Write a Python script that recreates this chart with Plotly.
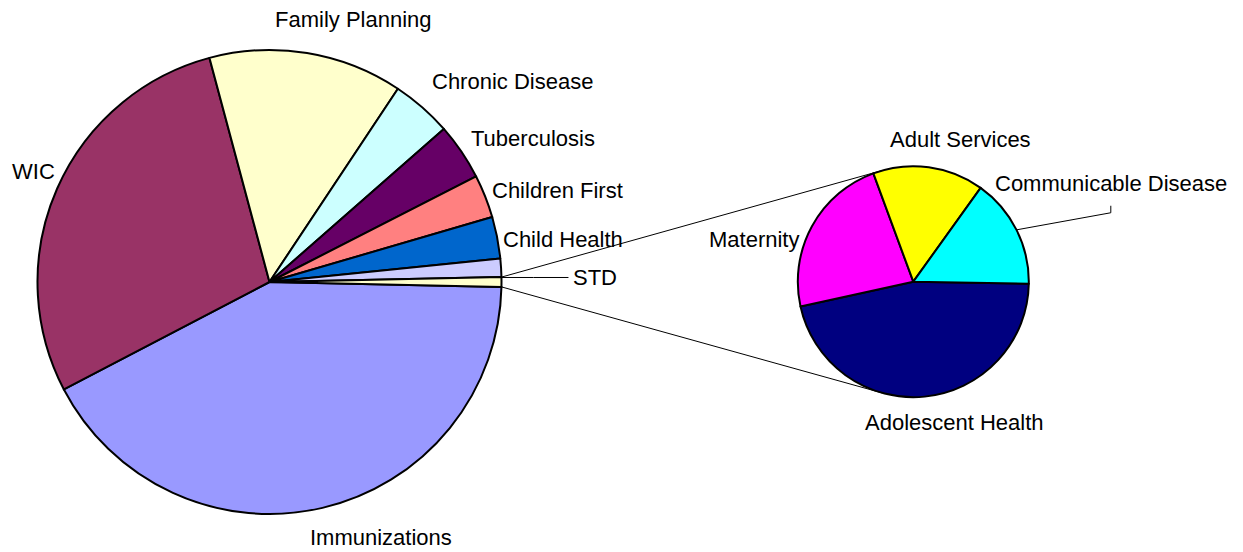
import math
import plotly.graph_objects as go

# ---------------- data ----------------
main_labels = ["Immunizations", "WIC", "Family Planning", "Chronic Disease",
               "Tuberculosis", "Children First", "Child Health", "STD"]
main_values = [42.0, 28.5, 13.5, 4.2, 3.95, 3.0, 2.9, 1.28]

sub_labels = ["Adolescent Health", "Maternity", "Adult Services", "Communicable Disease"]
sub_values = [0.310, 0.153, 0.104, 0.103]

main_colors = ["#9999FF", "#993366", "#FFFFCC", "#CCFFFF",
               "#660066", "#FF8080", "#0066CC", "#CCCCFF"]
other_color = "#FFFFCC"
sub_colors = ["#000080", "#FF00FF", "#FFFF00", "#00FFFF"]

# ---------------- layout geometry (pixels) ----------------
W, H = 1243, 552
MAIN_C, MAIN_R = (269.5, 282.0), 232.0
SUB_C, SUB_R = (913.3, 281.7), 115.5

other_value = sum(sub_values)
all_main_values = main_values + [other_value]
total = sum(all_main_values)
main_rotation = 90 + 360 * other_value / total / 2
sub_rotation = 91.0


def px(x):
    return x / W


def py(y):
    return 1 - y / H


def domain(c, r):
    return dict(x=[px(c[0] - r), px(c[0] + r)], y=[py(c[1] + r), py(c[1] - r)])


def slice_angles(values, rotation):
    """clock angles (deg from 12 o'clock, clockwise) of start/end of each slice"""
    tot = sum(values)
    out = []
    a = rotation
    for v in values:
        b = a + 360 * v / tot
        out.append((a, b))
        a = b
    return out


def edge_point(c, r, ang):
    t = math.radians(ang)
    return c[0] + r * math.sin(t), c[1] - r * math.cos(t)


fig = go.Figure()
fig.add_trace(go.Pie(
    labels=main_labels + ["Other"], values=all_main_values, sort=False,
    direction="clockwise", rotation=main_rotation, textinfo="none",
    marker=dict(colors=main_colors + [other_color], line=dict(color="black", width=2)),
    domain=domain(MAIN_C, MAIN_R), showlegend=False, hoverinfo="label+percent"))
fig.add_trace(go.Pie(
    labels=sub_labels, values=sub_values, sort=False,
    direction="clockwise", rotation=sub_rotation, textinfo="none",
    marker=dict(colors=sub_colors, line=dict(color="black", width=2)),
    domain=domain(SUB_C, SUB_R), showlegend=False, hoverinfo="label+percent"))

# label styles: (xanchor, xshift, yshift) relative to slice edge midpoint
main_label_style = [("left", -12, -29.6), ("right", -2, 12), ("left", -41.5, 34.7),
                    ("left", 2, 32), ("left", 3, 21), ("left", 2, 14.7),
                    ("left", 2.5, 7.6), ("left", 70, 0)]
sub_label_style = [("center", 30, -25.9), ("right", -10.5, -13.6),
                   ("center", 32, 27.3), ("center", 94.3, 46.5)]

font = dict(family="Liberation Sans, Arial, sans-serif", size=22, color="black")
annotations = []
shapes = []


def seg(p, q, w=1):
    shapes.append(dict(type="line", xref="paper", yref="paper",
                       x0=px(p[0]), y0=py(p[1]), x1=px(q[0]), y1=py(q[1]),
                       line=dict(color="black", width=w)))


def add_labels(labels, values, rotation, c, r, styles, leaders):
    for (a, b), lab, (xa, xs, ys) in zip(slice_angles(values, rotation), labels, styles):
        ex, ey = edge_point(c, r, (a + b) / 2)
        annotations.append(dict(x=px(ex), y=py(ey), xref="paper", yref="paper",
                                text=lab, showarrow=False, xanchor=xa, yanchor="middle",
                                xshift=xs, yshift=ys, font=font))
        if lab in leaders:
            lx, ly = ex + xs, ey - ys
            if leaders[lab] == "horizontal":
                seg((ex, ey), (ex + 32, ly))
                seg((ex + 32, ly), (lx - 3, ly))
            else:
                seg((ex, ey), (lx, ly + 29.4))
                seg((lx, ly + 29.4), (lx, ly + 22.4))


add_labels(main_labels, all_main_values[:-1] + [0], main_rotation, MAIN_C, MAIN_R,
           main_label_style, {"STD": "horizontal"})
add_labels(sub_labels, sub_values, sub_rotation, SUB_C, SUB_R,
           sub_label_style, {"Communicable Disease": "vertical"})

# connector lines: tangents from the "Other" slice edges to the secondary pie
oa, ob = slice_angles(all_main_values, main_rotation)[-1]
for ang, sgn in ((oa, -1), (ob, 1)):
    A = edge_point(MAIN_C, MAIN_R, ang)
    ax, ay = A[0], -A[1]
    cx, cy = SUB_C[0], -SUB_C[1]
    dx, dy = ax - cx, ay - cy
    d = math.hypot(dx, dy)
    phi = math.acos(SUB_R / d)
    base = math.atan2(dy, dx)
    t = base + sgn * phi
    T = (cx + SUB_R * math.cos(t), -(cy + SUB_R * math.sin(t)))
    seg(A, T)

fig.update_layout(width=W, height=H, margin=dict(l=0, r=0, t=0, b=0),
                  paper_bgcolor="white", plot_bgcolor="white",
                  annotations=annotations, shapes=shapes, showlegend=False)
fig.write_html("out.html", config={"displayModeBar": False},
               post_script="document.body.style.margin='0';"
                           "document.body.style.overflow='hidden';")
